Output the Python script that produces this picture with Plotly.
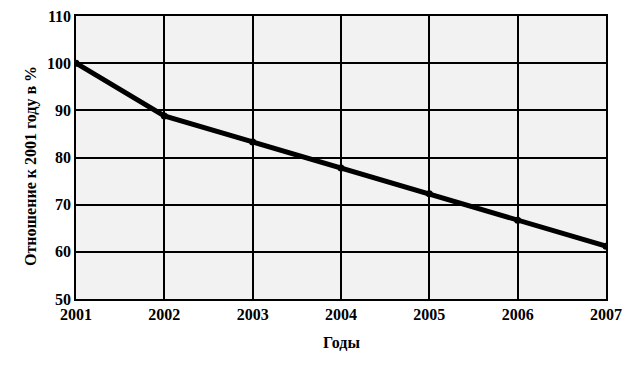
import plotly.graph_objects as go

years = [2001, 2002, 2003, 2004, 2005, 2006, 2007]
values = [100, 88.8, 83.3, 77.8, 72.3, 66.7, 61.2]
y_ticks = [50, 60, 70, 80, 90, 100, 110]
x_title = "Годы"
y_title = "Отношение к 2001 году в %"

font = dict(family="Liberation Serif", size=16, color="black")

fig = go.Figure()
fig.add_trace(go.Scatter(
    x=years, y=values, mode="lines+markers",
    line=dict(color="black", width=5),
    marker=dict(color="black", size=7),
    showlegend=False,
))
fig.update_layout(
    width=643, height=373,
    margin=dict(l=76, r=37, t=16, b=74, autoexpand=False),
    paper_bgcolor="white", plot_bgcolor="#f2f2f2",
    font=font,
    annotations=[
        dict(text=f"<b>{x_title}</b>", xref="paper", yref="paper",
             x=0.5, y=-0.152, showarrow=False, font=dict(size=16),
             xanchor="center", yanchor="middle"),
        dict(text=f"<b>{y_title}</b>", xref="paper", yref="paper",
             x=-0.085, y=0.47, showarrow=False, font=dict(size=16),
             textangle=-90, xanchor="center", yanchor="middle"),
    ],
)
fig.update_xaxes(
    range=[2001, 2007], tickvals=years, ticktext=[f"<b>{y}</b>" for y in years],
    showgrid=True, gridcolor="black", gridwidth=1.5,
    showline=True, linecolor="black", linewidth=1.5, mirror=True,
    ticks="", ticklen=0, automargin=False,
    zeroline=False,
)
fig.update_yaxes(
    range=[50, 110], tickvals=y_ticks, ticktext=[f"<b>{v}</b>" for v in y_ticks],
    showgrid=True, gridcolor="black", gridwidth=1.5,
    showline=True, linecolor="black", linewidth=1.5, mirror=True,
    ticks="", ticklen=0, automargin=False,
    zeroline=False,
)
fig.write_html("out.html", config={"displayModeBar": False},
               post_script="document.body.style.margin='0';")
